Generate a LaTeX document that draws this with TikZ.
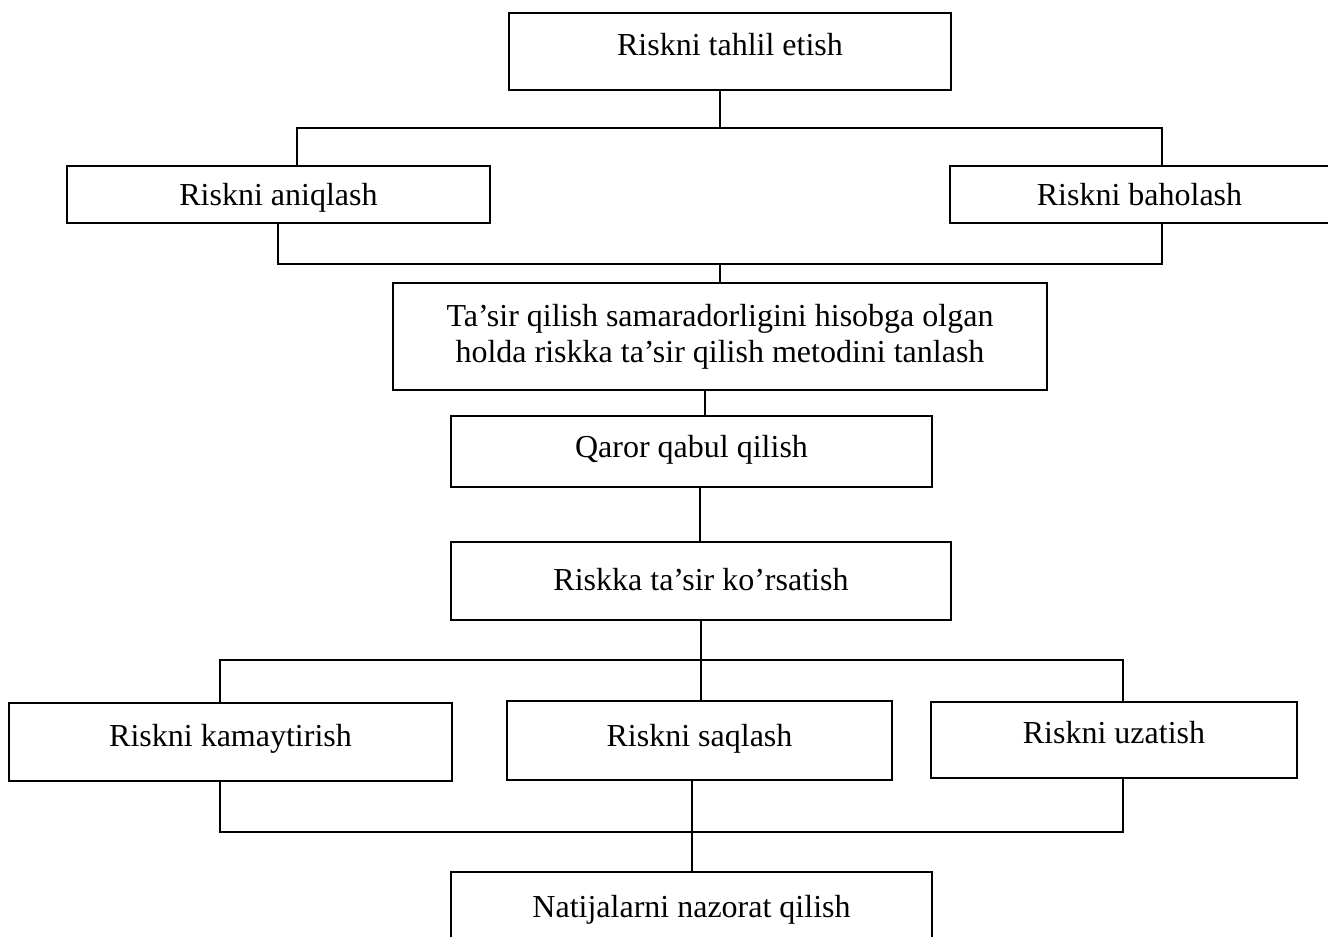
\documentclass[tikz,border=0pt]{standalone}
\usepackage{fontspec}
\setmainfont{Liberation Serif}
\begin{document}
\begin{tikzpicture}[x=1pt,y=-1pt,
  box/.style={draw=black, line width=1.8pt, inner sep=0pt, align=center,
    font=\fontsize{32}{36}\selectfont},
  tb/.style={text height=25pt, text depth=#1},
  conn/.style={draw=black, line width=1.8pt}]
\useasboundingbox (0,0) rectangle (1328,937);
% boxes
\node[box, tb=18pt, minimum width=442pt, minimum height=77pt] (top) at (730,51.5) {Riskni tahlil etish};
\node[box, tb=3pt, minimum width=423pt, minimum height=57pt] (aniq) at (278.5,194.5) {Riskni aniqlash};
\node[box, tb=3pt, minimum width=379pt, minimum height=57pt] (bahol) at (1139.5,194.5) {Riskni baholash};
\node[box, minimum width=654pt, minimum height=107pt] (tasir) at (720,336.5) {Ta’sir qilish samaradorligini hisobga olgan\\holda riskka ta’sir qilish metodini tanlash};
\node[box, tb=14pt, minimum width=481pt, minimum height=71pt] (qaror) at (691.5,451.5) {Qaror qabul qilish};
\node[box, tb=7pt, minimum width=500pt, minimum height=78pt] (riskka) at (701,581) {Riskka ta’sir ko’rsatish};
\node[box, tb=17pt, minimum width=443pt, minimum height=78pt] (kam) at (230.5,742) {Riskni kamaytirish};
\node[box, tb=14pt, minimum width=385pt, minimum height=79pt] (saq) at (699.5,740.5) {Riskni saqlash};
\node[box, tb=19pt, minimum width=366pt, minimum height=76pt] (uzat) at (1114,740) {Riskni uzatish};
\node[box, tb=15pt, minimum width=481pt, minimum height=80pt] (nat) at (691.5,912) {Natijalarni nazorat qilish};
% bus coordinates
\coordinate (b1L) at (297,128);
\coordinate (b1M) at (720,128);
\coordinate (b1R) at (1162,128);
\coordinate (b2L) at (278,264);
\coordinate (b2M) at (720,264);
\coordinate (b2R) at (1162,264);
\coordinate (c1) at (705,0);
\coordinate (c2) at (700,0);
\coordinate (b3L) at (220,660);
\coordinate (b3M) at (701,660);
\coordinate (b3R) at (1123,660);
\coordinate (b4L) at (220,832);
\coordinate (b4M) at (692,832);
\coordinate (b4R) at (1123,832);
% connectors
\draw[conn] (top.south -| b1M) -- (b1M);
\draw[conn] (aniq.north -| b1L) -- (b1L) -- (b1R) -- (bahol.north -| b1R);
\draw[conn] (aniq.south -| b2L) -- (b2L) -- (b2R) -- (bahol.south -| b2R);
\draw[conn] (b2M) -- (tasir.north -| b2M);
\draw[conn] (tasir.south -| c1) -- (qaror.north -| c1);
\draw[conn] (qaror.south -| c2) -- (riskka.north -| c2);
\draw[conn] (riskka.south -| b3M) -- (b3M);
\draw[conn] (kam.north -| b3L) -- (b3L) -- (b3R) -- (uzat.north -| b3R);
\draw[conn] (b3M) -- (saq.north -| b3M);
\draw[conn] (kam.south -| b4L) -- (b4L) -- (b4R) -- (uzat.south -| b4R);
\draw[conn] (saq.south -| b4M) -- (b4M);
\draw[conn] (b4M) -- (nat.north -| b4M);
\end{tikzpicture}
\end{document}
